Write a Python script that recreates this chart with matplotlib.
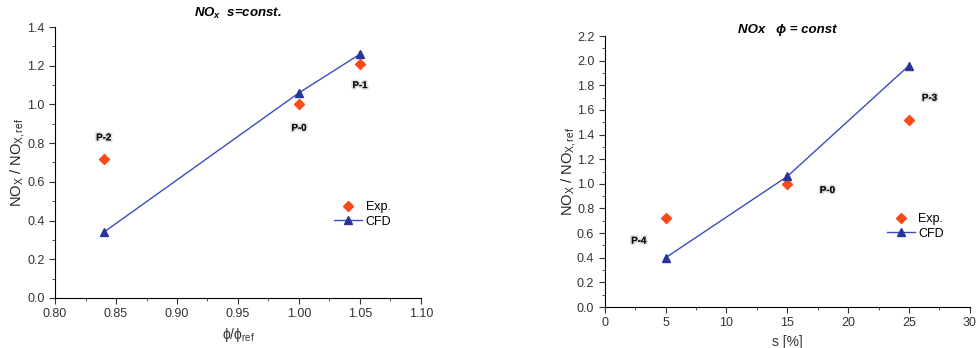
import matplotlib
matplotlib.use("Agg")
import matplotlib.pyplot as plt
import matplotlib.patheffects as pe
from matplotlib.ticker import MultipleLocator, FormatStrFormatter

plt.rcParams['font.family'] = ['Liberation Sans', 'DejaVu Sans']
plt.rcParams['mathtext.fontset'] = 'custom'
plt.rcParams['mathtext.rm'] = 'Liberation Sans'
plt.rcParams['mathtext.it'] = 'Liberation Sans:italic'
plt.rcParams['mathtext.bf'] = 'Liberation Sans:bold:italic'

# Left panel: s = const
phi = [0.84, 1.00, 1.05]
exp_left = [0.72, 1.00, 1.21]
cfd_left = [0.34, 1.06, 1.26]
labels_left = ["P-2", "P-0", "P-1"]
label_pos_left = [(0.84, 0.83), (1.00, 0.88), (1.05, 1.10)]

# Right panel: phi = const
s_vals = [5, 15, 25]
exp_right = [0.72, 1.00, 1.52]
cfd_right = [0.40, 1.06, 1.96]
labels_right = ["P-4", "P-0", "P-3"]
label_pos_right = [(2.8, 0.54), (18.3, 0.95), (26.7, 1.70)]

exp_color = '#fa4a1a'
cfd_color = '#27349a'
line_color = '#3a4cc0'

fig = plt.figure(figsize=(9.77, 3.48), dpi=100)
axL = fig.add_axes([0.0563, 0.1437, 0.3746, 0.7787])
axR = fig.add_axes([0.619, 0.1178, 0.3736, 0.7787])

def style(ax):
    for sp in ['top', 'right']:
        ax.spines[sp].set_visible(False)
    ax.tick_params(which='both', direction='out', labelsize=9, color='#333333', labelcolor='#333333')
    ax.tick_params(which='major', length=4)
    ax.tick_params(which='minor', length=2)

def add_labels(ax, labels, positions):
    for t, (x, y) in zip(labels, positions):
        txt = ax.text(x, y, t, fontsize=7, fontweight='bold', ha='center', va='center', color='#111111')
        txt.set_path_effects([pe.withStroke(linewidth=2.5, foreground='#dddddd'), pe.Normal()])

# Left
axL.plot(phi, exp_left, linestyle='none', marker='D', ms=5.5, color=exp_color, label='Exp.')
axL.plot(phi, cfd_left, '-', marker='^', ms=6, color=line_color, mfc=cfd_color, mec=cfd_color, lw=1, label='CFD')
axL.set_xlim(0.80, 1.10)
axL.set_ylim(0.0, 1.4)
axL.xaxis.set_major_locator(MultipleLocator(0.05))
axL.xaxis.set_minor_locator(MultipleLocator(0.025))
axL.yaxis.set_major_locator(MultipleLocator(0.2))
axL.yaxis.set_minor_locator(MultipleLocator(0.1))
axL.xaxis.set_major_formatter(FormatStrFormatter('%.2f'))
axL.yaxis.set_major_formatter(FormatStrFormatter('%.1f'))
style(axL)
axL.set_xlabel('ϕ/ϕ$_\\mathrm{ref}$', fontsize=10, color='#333333')
axL.set_ylabel(r'NO$_\mathrm{X}$ / NO$_\mathrm{X,ref}$', fontsize=10.5, color='#222222')
axL.yaxis.set_label_coords(-0.077, 0.5)
axL.set_title('NO$_\\mathbf{x}$  s=const.', fontsize=9.5, fontweight='bold', style='italic', pad=7)
add_labels(axL, labels_left, label_pos_left)
axL.legend(loc='upper left', bbox_to_anchor=(0.75, 0.375), frameon=False, fontsize=9,
           handlelength=2.2, handletextpad=0.3, labelspacing=0.2, borderaxespad=0)

# Right
axR.plot(s_vals, exp_right, linestyle='none', marker='D', ms=5.5, color=exp_color, label='Exp.')
axR.plot(s_vals, cfd_right, '-', marker='^', ms=6, color=line_color, mfc=cfd_color, mec=cfd_color, lw=1, label='CFD')
axR.set_xlim(0, 30)
axR.set_ylim(0.0, 2.2)
axR.xaxis.set_major_locator(MultipleLocator(5))
axR.xaxis.set_minor_locator(MultipleLocator(2.5))
axR.yaxis.set_major_locator(MultipleLocator(0.2))
axR.yaxis.set_minor_locator(MultipleLocator(0.1))
axR.yaxis.set_major_formatter(FormatStrFormatter('%.1f'))
style(axR)
axR.set_xlabel('s [%]', fontsize=10, color='#333333')
axR.set_ylabel(r'NO$_\mathrm{X}$ / NO$_\mathrm{X,ref}$', fontsize=10.5, color='#222222')
axR.yaxis.set_label_coords(-0.074, 0.5)
axR.set_title('NOx   ϕ = const', fontsize=9.5, fontweight='bold', style='italic', pad=1)
add_labels(axR, labels_right, label_pos_right)
axR.legend(loc='upper left', bbox_to_anchor=(0.76, 0.365), frameon=False, fontsize=9,
           handlelength=2.2, handletextpad=0.3, labelspacing=0.2, borderaxespad=0)

fig.savefig('out.png', dpi=100)
